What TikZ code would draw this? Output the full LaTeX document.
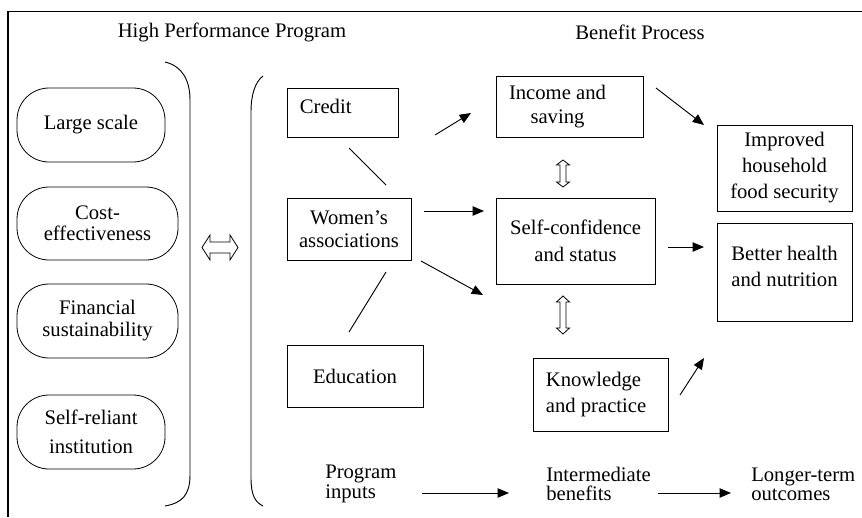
\documentclass[tikz,border=0pt]{standalone}
\usepackage{fontspec}
\setmainfont{Liberation Serif}
\usetikzlibrary{arrows.meta}
\begin{document}
\begin{tikzpicture}[x=0.75pt,y=-0.75pt,
  fs/.style={font=\fontsize{15.5}{17.5}\selectfont},
  fst/.style={font=\fontsize{15.5}{14.5}\selectfont},
  sz/.style 2 args={minimum width=#1*0.75pt, minimum height=#2*0.75pt},
  box/.style={draw, line width=0.6pt, inner sep=0pt, align=center, fs},
  stad/.style={box, rounded corners=24pt},
  ln/.style={line width=0.7pt},
  arr/.style={line width=0.7pt, -{Triangle[length=8.5pt,width=7pt]}},
  hollow/.style={draw, line width=0.6pt, line join=miter},
  lbl/.style={fs, align=left, inner sep=0pt}
]
\useasboundingbox (0,0) rectangle (862,517);
% frame
\draw[line width=1.4pt] (8,517) -- (8,11.5) -- (862,11.5);
% titles
\node[fs] (t1) at (232,32) {High Performance Program};
\node[fs] (t2) at (640,32) {Benefit Process};
% brackets
\draw[line width=0.7pt] (165,62) .. controls (182,66) and (190,80) .. (190,100) -- (190,475) .. controls (190,495) and (182,503) .. (165,506);
\draw[line width=0.7pt] (263,76) .. controls (255,82) and (251,95) .. (251,112) -- (251,478) .. controls (251,495) and (255,502) .. (263,506);
% left stadiums
\node[stad, sz={148}{74}] (large) at (91,125) {Large scale};
\node[stad, sz={161}{73}] (cost) at (97.5,223.5) {Cost-\\[-2pt]effectiveness};
\node[stad, sz={161}{74}] (fin) at (97.5,321) {Financial\\[-1pt]sustainability};
\node[stad, sz={148}{74}] (selfrel) at (91,432) {Self-reliant\\[4pt]institution};
% big hollow arrow
\coordinate (dbl) at (220,247.5);
\draw[hollow, shift={(dbl)}] (-18,0) -- (-10,-12.5) -- (-10,-5.5) -- (10,-5.5) -- (10,-12.5) -- (18,0) -- (10,12.5) -- (10,5.5) -- (-10,5.5) -- (-10,12.5) -- cycle;
% input boxes
\node[box, sz={111}{49}, label={[fs, anchor=north west, inner sep=0pt, xshift=9.75pt, yshift=-8.5pt]north west:Credit}] (credit) at (342.5,112.5) {};
\node[box, sz={124}{62}] (women) at (349,229) {Women’s\\associations};
\node[box, sz={136}{62}] (edu) at (355,376) {Education};
% benefit boxes
\node[box, sz={147}{61}, label={[fs, align=center, inner sep=0pt, xshift=-9pt]center:Income and\\saving}] (income) at (569.5,106.5) {};
\node[box, sz={159}{86}] (selfconf) at (575.5,241) {Self-confidence\\[3pt]and status};
\node[box, sz={135}{73}, align=left, label={[fs, align=left, anchor=west, inner sep=0pt, xshift=9.75pt]west:Knowledge\\[2pt]and practice}] (know) at (600.5,394.5) {};
% outcome boxes
\node[box, sz={135}{86}] (improved) at (784.5,168) {Improved\\[2pt]household\\[2pt]food security};
\node[box, sz={135}{98}, label={[fs, align=center, inner sep=0pt, yshift=4pt]center:Better health\\[2pt]and nutrition}] (better) at (784.5,272) {};
% hollow vertical arrows
\coordinate (v1) at (563,173.5);
\coordinate (v2) at (563,315);
\draw[hollow, shift={(v1)}] (0,-13.5) -- (6.5,-8.5) -- (3,-8.5) -- (3,8.5) -- (6.5,8.5) -- (0,13.5) -- (-6.5,8.5) -- (-3,8.5) -- (-3,-8.5) -- (-6.5,-8.5) -- cycle;
\draw[hollow, shift={(v2)}] (0,-19) -- (6.5,-13) -- (3,-13) -- (3,13) -- (6.5,13) -- (0,19) -- (-6.5,13) -- (-3,13) -- (-3,-13) -- (-6.5,-13) -- cycle;
% connector end points
\coordinate (cw1) at (349,148); \coordinate (cw2) at (386,185);
\coordinate (we1) at (386,272); \coordinate (we2) at (349,332);
\coordinate (wi1) at (435,135); \coordinate (wi2) at (471,113);
\coordinate (ws1) at (424,211); \coordinate (ws2) at (484,211);
\coordinate (wk1) at (421,261); \coordinate (wk2) at (483,295);
\coordinate (ii1) at (656,88);  \coordinate (ii2) at (704,125);
\coordinate (sb1) at (668,247); \coordinate (sb2) at (704,247);
\coordinate (kb1) at (680,395); \coordinate (kb2) at (704,358);
\draw[ln] (cw1) -- (cw2);
\draw[ln] (we1) -- (we2);
\draw[arr] (wi1) -- (wi2);
\draw[arr] (ws1) -- (ws2);
\draw[arr] (wk1) -- (wk2);
\draw[arr] (ii1) -- (ii2);
\draw[arr] (sb1) -- (sb2);
\draw[arr] (kb1) -- (kb2);
% bottom legend
\node[lbl, fst, anchor=west] (pin) at (325,484) {Program\\inputs};
\node[lbl, fst, anchor=west] (inb) at (546,484) {Intermediate\\benefits};
\node[lbl, fst, anchor=west] (lto) at (751,484) {Longer-term\\outcomes};
\coordinate (a1) at (422,493); \coordinate (a2) at (509,493);
\coordinate (b1) at (658,493); \coordinate (b2) at (731,493);
\draw[arr] (a1) -- (a2);
\draw[arr] (b1) -- (b2);
\end{tikzpicture}
\end{document}
